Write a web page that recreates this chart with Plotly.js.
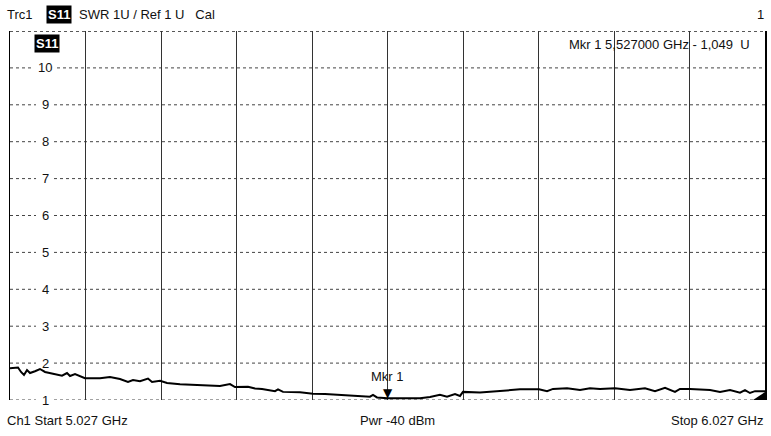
<!DOCTYPE html>
<html>
<head>
<meta charset="utf-8">
<script src="https://cdn.plot.ly/plotly-3.0.1.min.js"></script>
<style>
html,body{margin:0;padding:0;background:#fff;}
#chart{width:771px;height:436px;}
</style>
</head>
<body>
<div id="chart"></div>
<script>
// Frequency (GHz) and SWR (U)
var freqGHz = [5.027,5.0376,5.0416,5.0455,5.0495,5.0535,5.0601,5.0667,5.0734,5.0866,5.0959,5.1025,5.1065,5.1131,5.1263,5.1462,5.1594,5.1727,5.1833,5.1899,5.1992,5.2098,5.2151,5.2257,5.2350,5.2522,5.2787,5.3051,5.3184,5.3250,5.3422,5.3515,5.3608,5.3780,5.3820,5.3886,5.4111,5.4283,5.4442,5.4641,5.5038,5.5078,5.5131,5.527,5.5700,5.5833,5.5965,5.6058,5.6164,5.6230,5.6270,5.6495,5.6694,5.6892,5.7025,5.7277,5.7383,5.7462,5.7648,5.7820,5.7952,5.8085,5.8283,5.8482,5.8681,5.8813,5.8946,5.9078,5.9144,5.9277,5.9542,5.9674,5.9807,5.9939,6.0005,6.0071,6.0138,6.027];
var swr = [1.86,1.88,1.76,1.68,1.81,1.73,1.78,1.84,1.76,1.70,1.66,1.73,1.65,1.70,1.59,1.59,1.62,1.57,1.49,1.54,1.51,1.58,1.49,1.52,1.46,1.43,1.41,1.38,1.43,1.35,1.36,1.31,1.30,1.24,1.29,1.22,1.21,1.17,1.16,1.14,1.09,1.14,1.07,1.049,1.05,1.08,1.14,1.09,1.16,1.11,1.22,1.20,1.23,1.26,1.29,1.29,1.24,1.30,1.32,1.27,1.32,1.30,1.32,1.27,1.32,1.24,1.33,1.22,1.30,1.30,1.27,1.22,1.27,1.20,1.27,1.19,1.24,1.24];
var yTickVals = [1,2,3,4,5,6,7,8,9,10];
var yTickText = ["1","2","3","4","5","6","7","8","9","10"];
var yTopVal = 11;
var startGHz = 5.027, stopGHz = 6.027;
var mkrFreq = 5.527, mkrVal = 1.049;
var headerText = "SWR 1U / Ref 1 U   Cal";
var mkrText = "Mkr 1 5,527000 GHz - 1,049  U";
var footLeft = "Ch1 Start 5.027 GHz", footMid = "Pwr -40 dBm", footRight = "Stop 6.027 GHz";

var FONT = '"Liberation Sans Narrow","Arial Narrow","Liberation Sans",Arial,sans-serif';
var L = 10, R = 765, T = 31, B = 400, W = 771, H = 436;
function px(x){ return (x - L) / (R - L); }
function py(y){ return (B - y) / (B - T); }

var ann = [], shapes = [];
function txt(t, x, y, xa, extra){
  var a = {text: t, xref: 'paper', yref: 'paper', x: px(x), y: py(y), xanchor: xa || 'left', yanchor: 'middle',
    showarrow: false, font: {family: FONT, size: 13, color: '#111'}};
  if (extra) for (var k in extra) a[k] = extra[k];
  ann.push(a);
}
txt('Trc1', 5, 14);
txt('<b>S11</b>', 46, 14, 'left', {bgcolor: '#000', font: {family: FONT, size: 13, color: '#fff'}, borderpad: 1});
txt(headerText, 77, 14);
txt('1', 766, 14, 'right');
txt('<b>S11</b>', 34, 44, 'left', {bgcolor: '#000', font: {family: FONT, size: 13, color: '#fff'}, borderpad: 1});
txt(mkrText, 752, 45, 'right');
txt(footLeft, 5, 420);
txt(footMid, 397, 420, 'center');
txt(footRight, 766, 420, 'right');

var gridLine = {color: '#444', width: 1, dash: 'dot'};
yTickVals.forEach(function(v, i){
  var half = yTickText[i].length > 1 ? 12 : 9;
  shapes.push({type: 'line', layer: 'below', xref: 'paper', yref: 'y', x0: 0, x1: px(45 - half), y0: v, y1: v, line: gridLine});
  shapes.push({type: 'line', layer: 'below', xref: 'paper', yref: 'y', x0: px(45 + half), x1: 1, y0: v, y1: v, line: gridLine});
  ann.push({text: yTickText[i], xref: 'paper', yref: 'y', x: px(45), y: v, xanchor: 'center', yanchor: 'middle',
    showarrow: false, font: {family: FONT, size: 13, color: '#111'}});
});
shapes.push({type: 'line', layer: 'below', xref: 'paper', yref: 'y', x0: 0, x1: 1, y0: yTopVal, y1: yTopVal, line: {color: '#222', width: 1.5, dash: 'dot'}});
// end-of-trace wedge
shapes.push({type: 'path', xref: 'paper', yref: 'paper', fillcolor: '#000', line: {width: 0},
  path: 'M ' + px(753) + ',' + py(400) + ' L ' + px(765) + ',' + py(400) + ' L ' + px(765) + ',' + py(392) + ' Z'});

ann.push({text: '▼', xref: 'x', yref: 'y', x: mkrFreq, y: mkrVal, xanchor: 'center', yanchor: 'bottom', yshift: -4,
  showarrow: false, font: {family: 'DejaVu Sans', size: 12, color: '#000'}});
ann.push({text: 'Mkr 1', xref: 'x', yref: 'y', x: mkrFreq, y: mkrVal, xanchor: 'center', yanchor: 'bottom', yshift: 12,
  showarrow: false, font: {family: FONT, size: 13, color: '#111'}});

var trace = {x: freqGHz, y: swr, type: 'scatter', mode: 'lines', line: {color: '#000', width: 2}, hoverinfo: 'skip'};

var layout = {
  width: W, height: H,
  margin: {l: L, r: W - R, t: T, b: H - B, pad: 0},
  paper_bgcolor: '#fff', plot_bgcolor: '#fff',
  showlegend: false,
  xaxis: {range: [startGHz, stopGHz], dtick: 0.1, tick0: startGHz, showticklabels: false, ticks: '',
    showgrid: true, gridcolor: '#333', gridwidth: 1, zeroline: false, showline: false},
  yaxis: {range: [1, 11], dtick: 1, tick0: 1, showticklabels: false, ticks: '',
    showgrid: false, zeroline: false,
    showline: true, linecolor: '#000', linewidth: 1.5, mirror: true},
  shapes: shapes,
  annotations: ann
};
Plotly.newPlot('chart', [trace], layout, {displayModeBar: false, staticPlot: true});
</script>
</body>
</html>
